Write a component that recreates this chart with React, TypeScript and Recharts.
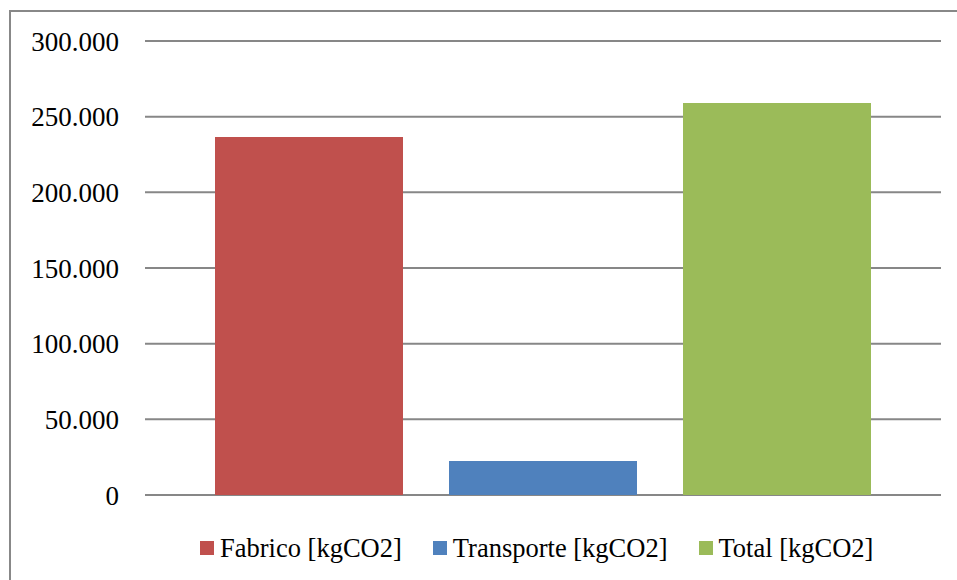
import React from 'react';
import { BarChart, Bar, XAxis, YAxis, CartesianGrid, Legend } from 'recharts';

// Emission components (kgCO2)
const seriesNames = ['Fabrico [kgCO2]', 'Transporte [kgCO2]', 'Total [kgCO2]'];
const seriesKeys = ['fabrico', 'transporte', 'total'];
const seriesValues = [236500, 22500, 259000];
const seriesColors = ['#C0504D', '#4F81BD', '#9BBB59'];
const yTicks = [0, 50000, 100000, 150000, 200000, 250000, 300000];

const row: Record<string, number | string> = { name: 'CO2' };
seriesKeys.forEach((k, i) => {
  row[k] = seriesValues[i];
});
const data = [row];

const FONT = '"Liberation Serif", "Times New Roman", serif';

// Spanish-style thousands separator: 50000 -> "50.000"
const formatTick = (v: number) => {
  const s = String(Math.round(v));
  return s.replace(/\B(?=(\d{3})+(?!\d))/g, '.');
};

const LegendContent = (props: any) => {
  // keep the legend in series order
  const payload = [...(props.payload || [])].sort(
    (a: any, b: any) => seriesNames.indexOf(a.value) - seriesNames.indexOf(b.value)
  );
  return (
    <div
      style={{
        display: 'flex',
        alignItems: 'center',
        paddingLeft: 200,
        height: 36,
        fontFamily: FONT,
        fontSize: 26.5,
        color: '#000',
      }}
    >
      {payload.map((p: any, i: number) => (
        <div key={i} style={{ display: 'flex', alignItems: 'center', marginRight: 31 }}>
          <span
            style={{
              display: 'inline-block',
              width: 14,
              height: 14,
              background: p.color,
              marginRight: 6,
            }}
          />
          <span style={{ whiteSpace: 'nowrap', lineHeight: '36px' }}>{p.value}</span>
        </div>
      ))}
    </div>
  );
};

export default function App() {
  return (
    <div
      style={{
        position: 'absolute',
        left: 0,
        top: 0,
        width: 957,
        height: 580,
        overflow: 'hidden',
        background: '#fff',
      }}
    >
      <div
        style={{
          position: 'absolute',
          left: 9,
          top: 10,
          width: 1000,
          height: 640,
          border: '2px solid #888888',
          boxSizing: 'border-box',
        }}
      />
      <div style={{ position: 'absolute', left: 0, top: 0 }}>
        <BarChart
          width={957}
          height={580}
          data={data}
          margin={{ top: 41, right: 16, bottom: 49, left: 0 }}
          barCategoryGap={70}
          barGap={46}
        >
          <CartesianGrid vertical={false} stroke="#878787" strokeWidth={2} />
          <XAxis dataKey="name" hide />
          <YAxis
            width={145}
            domain={[0, 300000]}
            ticks={yTicks}
            interval={0}
            tickFormatter={formatTick}
            axisLine={false}
            tickLine={false}
            tickSize={0}
            tickMargin={26}
            tick={{ fill: '#000', fontFamily: FONT, fontSize: 27 }}
          />
          <Legend
            verticalAlign="bottom"
            itemSorter={null as any}
            content={<LegendContent />}
            wrapperStyle={{ left: 0, top: 530, width: 957, height: 36 }}
          />
          {seriesKeys.map((k, i) => (
            <Bar
              key={k}
              dataKey={k}
              name={seriesNames[i]}
              fill={seriesColors[i]}
              isAnimationActive={false}
            />
          ))}
        </BarChart>
      </div>
    </div>
  );
}
